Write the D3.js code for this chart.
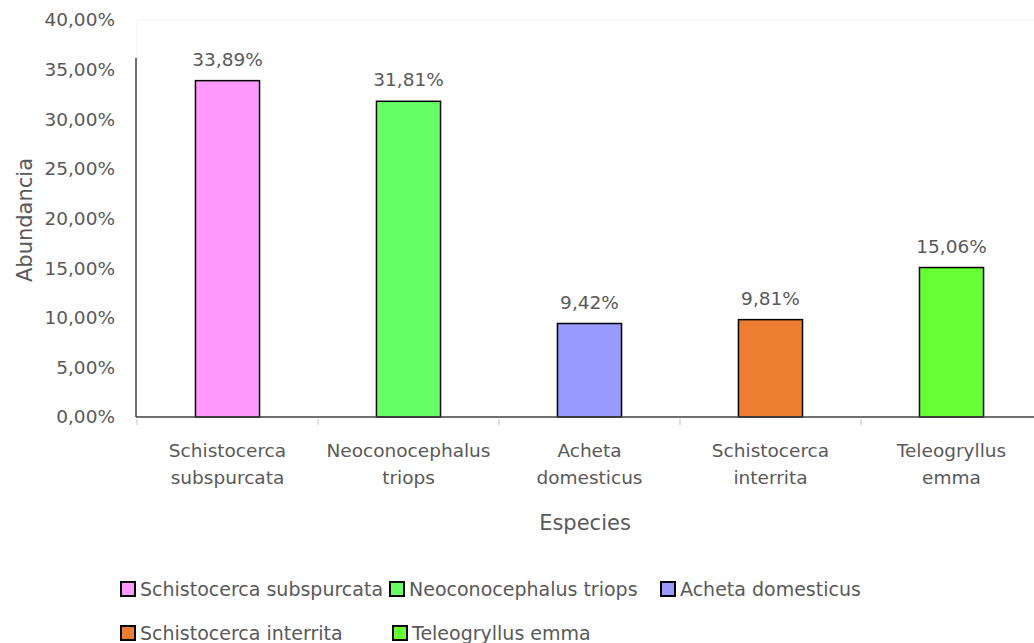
<!DOCTYPE html>
<html>
<head>
<meta charset="utf-8">
<script src="https://cdn.jsdelivr.net/npm/d3@7"></script>
<style>
  html, body { margin: 0; padding: 0; background: #ffffff; }
  svg text { font-family: "DejaVu Sans", "Noto Sans", sans-serif; fill: #595959; }
</style>
</head>
<body>
<svg id="chart" width="1034" height="643"></svg>
<script>
// Abundancia relativa por especie
const species = [
  "Schistocerca subspurcata",
  "Neoconocephalus triops",
  "Acheta domesticus",
  "Schistocerca interrita",
  "Teleogryllus emma"
];
const axisLines = [
  ["Schistocerca", "subspurcata"],
  ["Neoconocephalus", "triops"],
  ["Acheta", "domesticus"],
  ["Schistocerca", "interrita"],
  ["Teleogryllus", "emma"]
];
const abundance = [33.89, 31.81, 9.42, 9.81, 15.06];
const colors = ["#FF99FF", "#66FF66", "#9999FF", "#ED7D31", "#66FF33"];
const yTicks = [0, 5, 10, 15, 20, 25, 30, 35, 40];

const fmt = v => v.toFixed(2).replace(".", ",") + "%";

const svg = d3.select("#chart");
const fontSize = 18.5;
const titleSize = 21;
const legendSize = 19;

const x = d3.scaleBand()
  .domain(species)
  .range([137, 1042])
  .paddingInner(0.646)
  .paddingOuter(0.323);

const y = d3.scaleLinear().domain([0, 40]).range([417, 20]);

// faint plot-area edge at the top
svg.append("path")
  .attr("d", `M137,${y(40)}H1034M137,${y(40)}V${y(35.8)}`)
  .attr("stroke", "#eef2f8")
  .attr("stroke-width", 1)
  .attr("fill", "none");

// y-axis line
svg.append("line")
  .attr("x1", 136).attr("x2", 136)
  .attr("y1", y(36.2)).attr("y2", y(0))
  .attr("stroke", "#404040").attr("stroke-width", 1.5);

// y tick labels
svg.append("g").selectAll("text")
  .data(yTicks)
  .join("text")
  .attr("x", 115)
  .attr("y", d => y(d))
  .attr("dy", "0.35em")
  .attr("text-anchor", "end")
  .attr("font-size", fontSize)
  .text(d => fmt(d));

// bars
svg.append("g").selectAll("rect")
  .data(abundance)
  .join("rect")
  .attr("x", (d, i) => x(species[i]))
  .attr("y", d => y(d))
  .attr("width", x.bandwidth())
  .attr("height", d => y(0) - y(d))
  .attr("fill", (d, i) => colors[i])
  .attr("stroke", "#000000")
  .attr("stroke-width", 1.5);

// value labels
svg.append("g").selectAll("text")
  .data(abundance)
  .join("text")
  .attr("x", (d, i) => x(species[i]) + x.bandwidth() / 2)
  .attr("y", d => y(d) - 15)
  .attr("text-anchor", "middle")
  .attr("font-size", fontSize)
  .text(d => fmt(d));

// x-axis baseline and tick marks
svg.append("line")
  .attr("x1", 136).attr("x2", 1034)
  .attr("y1", y(0)).attr("y2", y(0))
  .attr("stroke", "#404040").attr("stroke-width", 1.5);

const step = x.step();
const tickXs = d3.range(species.length + 1).map(i => 137 + i * step);
svg.append("g").selectAll("line")
  .data(tickXs)
  .join("line")
  .attr("x1", d => d).attr("x2", d => d)
  .attr("y1", y(0) + 2).attr("y2", y(0) + 8)
  .attr("stroke", "#d9d9d9").attr("stroke-width", 1.5);

// category labels (two lines)
const cat = svg.append("g").selectAll("text")
  .data(species)
  .join("text")
  .attr("text-anchor", "middle")
  .attr("font-size", fontSize);
cat.selectAll("tspan")
  .data((d, i) => axisLines[i].map(t => ({ t, cx: x(d) + x.bandwidth() / 2 })))
  .join("tspan")
  .attr("x", d => d.cx)
  .attr("y", (d, j) => 457 + j * 27)
  .text(d => d.t);

// axis titles
svg.append("text")
  .attr("x", 585).attr("y", 530)
  .attr("text-anchor", "middle")
  .attr("font-size", titleSize)
  .text("Especies");

svg.append("text")
  .attr("transform", "translate(32,220) rotate(-90)")
  .attr("text-anchor", "middle")
  .attr("font-size", titleSize)
  .text("Abundancia");

// legend
const legendPos = [
  [121, 596], [390, 596], [661, 596],
  [121, 640], [393, 640]
];
const leg = svg.append("g").selectAll("g")
  .data(species)
  .join("g")
  .attr("transform", (d, i) => `translate(${legendPos[i][0]},${legendPos[i][1]})`);
leg.append("rect")
  .attr("x", 0).attr("y", -14)
  .attr("width", 14).attr("height", 14)
  .attr("fill", (d, i) => colors[i])
  .attr("stroke", "#000000")
  .attr("stroke-width", 2);
leg.append("text")
  .attr("x", 19).attr("y", 0)
  .attr("font-size", legendSize)
  .text(d => d);
</script>
</body>
</html>
